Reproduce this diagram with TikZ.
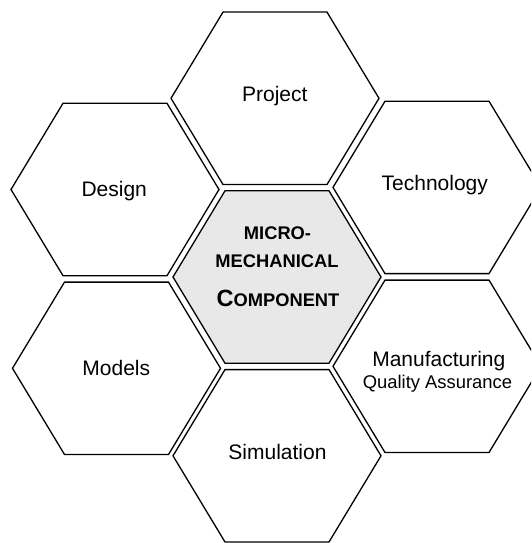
\documentclass[tikz,border=0pt]{standalone}
\usepackage{fontspec}
\setmainfont{Liberation Sans}
\definecolor{cellgray}{RGB}{232,232,232}
\newcommand\hexshape{(-104,0) -- (-52,-86.2) -- (52,-86.2) -- (104,0) -- (52,86.2) -- (-52,86.2) -- cycle}
\begin{document}
\begin{tikzpicture}[x=1pt,y=-1pt,
  hexline/.style={draw=black,line width=1.3pt,line join=miter},
  lbl/.style={anchor=base,inner sep=0pt,font=\fontsize{21}{25}\selectfont},
  sublbl/.style={anchor=base,inner sep=0pt,font=\fontsize{18.4}{22}\selectfont},
  capsm/.style={anchor=base,inner sep=0pt,font=\bfseries\fontsize{18.3}{22}\selectfont}]
\useasboundingbox (0,0) rectangle (531,543);
\clip (0,0) rectangle (531,543);
% hexagons
\draw[hexline,shift={(275,98.3)}] \hexshape;
\draw[hexline,shift={(115,189.5)}] \hexshape;
\draw[hexline,shift={(437,187.4)}] \hexshape;
\draw[hexline,fill=cellgray,shift={(277,277)}] \hexshape;
\draw[hexline,shift={(116.5,368.3)}] \hexshape;
\draw[hexline,shift={(437,366.3)}] \hexshape;
\draw[hexline,shift={(277,455.8)}] \hexshape;
% labels
\node[lbl] (project) at (274.8,101.7) {Project};
\node[lbl] (design) at (114.2,196.7) {Design};
\node[lbl] (technology) at (434.8,190) {Technology};
\node[lbl] (models) at (116.3,375) {Models};
\node[lbl] (simulation) at (277.5,459) {Simulation};
\node[lbl] (manufacturing) at (438.8,366.7) {Manufacturing};
\node[sublbl] (quality) at (437.5,388.3) {Quality Assurance};
\node[capsm] (micro) at (277.5,239.3) {MICRO-};
\node[capsm] (mechanical) at (277,267.3) {MECHANICAL};
\node[anchor=base,inner sep=0pt,font=\bfseries] (component) at (278,306.7) {{\fontsize{23.5}{28}\selectfont C}{\fontsize{18.3}{22}\selectfont OMPONENT}};
\end{tikzpicture}
\end{document}
